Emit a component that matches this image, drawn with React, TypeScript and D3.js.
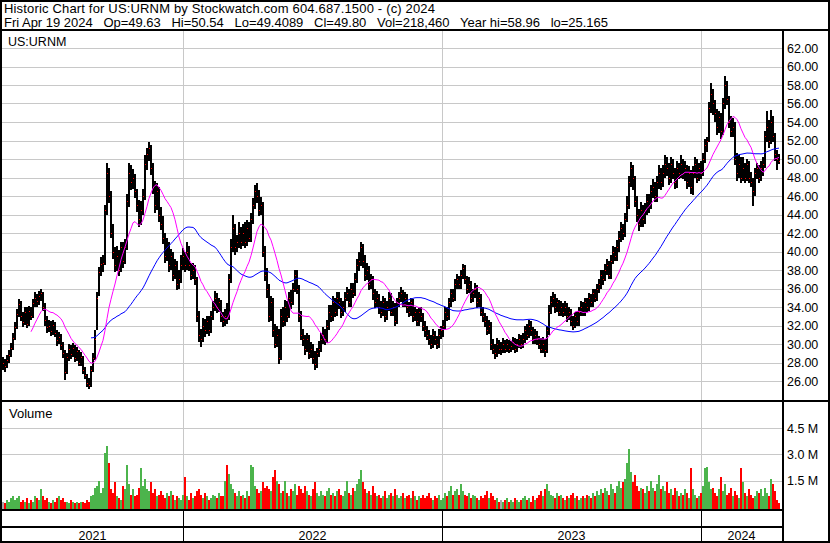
import React from "react";
import * as d3 from "d3";

// ---- data (one bar = two trading days) ----
const closes = [
  28.0, 27.6, 28.3, 28.8, 29.6, 30.6, 31.8, 33.2, 34.3, 33.0,
  32.4, 33.5, 32.2, 33.6, 33.0, 34.4, 35.0, 34.6, 35.2, 35.5,
  34.0, 32.6, 31.8, 32.0, 31.4, 32.1, 31.2, 30.4, 30.8, 29.9,
  29.0, 27.0, 28.6, 29.5, 28.9, 29.6, 28.5, 29.2, 28.0, 28.6,
  27.2, 26.6, 25.8, 25.6, 27.2, 28.5, 30.5, 35.0, 37.8, 38.6,
  38.8, 44.5, 48.5, 46.0, 42.0, 40.0, 38.5, 39.5, 38.0, 40.5,
  39.0, 40.5, 45.5, 48.5, 47.5, 48.0, 46.5, 45.0, 43.5, 44.5,
  46.0, 49.5, 50.5, 51.2, 49.0, 47.0, 45.0, 46.5, 44.0, 43.0,
  41.5, 39.5, 40.5, 38.5, 39.5, 37.5, 38.5, 36.5, 37.0, 38.5,
  39.5, 38.5, 40.0, 38.5, 37.5, 38.0, 37.0, 33.0, 31.0, 30.5,
  32.0, 31.5, 32.5, 31.5, 33.0, 34.0, 35.0, 34.0, 34.5, 33.0,
  32.5, 33.0, 32.8, 37.0, 40.5, 42.5, 40.5, 41.0, 42.0, 41.0,
  42.0, 41.0, 42.5, 41.5, 43.5, 45.0, 46.5, 46.0, 44.5, 45.0,
  40.0, 37.5, 36.0, 33.0, 34.5, 31.5, 30.0, 31.0, 28.5, 33.0,
  32.5, 34.0, 33.0, 35.0, 34.5, 36.0, 37.5, 36.0, 33.0, 31.0,
  30.5, 29.5, 30.5, 29.0, 29.5, 28.5, 27.8, 29.0, 29.5, 30.5,
  31.0, 30.5, 32.0, 33.5, 33.0, 34.5, 33.5, 35.0, 34.5, 33.5,
  34.0, 35.0, 35.5, 34.5, 36.0, 35.5, 37.0, 38.5, 39.0, 40.5,
  39.0, 37.5, 38.0, 36.5, 37.0, 35.5, 34.5, 35.0, 34.0, 33.5,
  34.5, 33.0, 34.0, 35.0, 33.5, 34.0, 32.5, 34.5, 35.0, 35.5,
  34.5, 35.0, 34.0, 33.5, 34.5, 33.0, 33.5, 32.5, 33.5, 33.0,
  32.0, 31.5, 31.0, 30.5, 30.0, 31.0, 30.5, 30.0, 31.0, 31.5,
  32.0, 33.5, 33.0, 34.5, 35.5, 35.0, 36.5, 37.0, 36.5, 37.5,
  38.2, 37.0, 36.0, 36.5, 35.0, 35.5, 36.0, 34.5, 35.0, 33.5,
  33.0, 32.5, 31.5, 32.0, 30.0, 29.5, 29.0, 30.0, 29.5, 29.5,
  30.0, 29.5, 30.0, 29.5, 29.8, 30.2, 29.5, 30.0, 30.5, 30.0,
  30.5, 31.5, 31.0, 32.0, 31.5, 30.5, 31.0, 30.5, 30.0, 29.5,
  30.0, 29.3, 31.5, 33.5, 34.5, 35.0, 34.0, 34.5, 33.5, 34.0,
  33.5, 34.0, 33.0, 33.5, 32.5, 32.0, 33.0, 32.5, 33.5, 34.0,
  33.5, 34.5, 34.0, 35.0, 34.5, 35.5, 35.0, 36.0, 36.5, 37.5,
  37.0, 38.0, 38.5, 37.5, 39.0, 40.0, 39.5, 40.5, 41.5, 42.5,
  42.0, 43.5, 45.0, 47.5, 49.0, 48.0, 45.5, 44.0, 43.0, 44.5,
  43.5, 44.5, 45.5, 45.0, 46.5, 47.0, 46.0, 47.5, 48.5, 47.5,
  48.5, 49.5, 49.0, 48.0, 49.5, 48.5, 47.5, 49.0, 48.5, 49.5,
  48.5, 49.0, 47.5, 48.5, 47.0, 48.5, 49.5, 48.0, 49.0, 48.5,
  50.0, 51.5, 52.0, 55.5, 57.0, 56.0, 55.0, 53.5, 54.5, 53.0,
  56.0, 58.0, 56.5, 54.0, 53.0, 53.5, 50.0, 48.5, 49.5, 48.0,
  49.0, 48.0, 49.5, 48.0, 47.5, 46.5, 48.5, 49.0, 48.0, 49.0,
  49.5, 52.5, 53.5, 52.0, 54.0, 52.5, 50.5, 50.0, 49.8,
];

const highs = [
  28.6, 28.4, 28.8, 29.3, 30.1, 31.2, 32.4, 33.8, 34.9, 34.6,
  33.5, 34.0, 34.0, 34.1, 34.0, 34.9, 35.6, 35.4, 35.7, 35.9,
  35.6, 34.4, 33.0, 32.6, 32.5, 32.6, 32.4, 31.5, 31.3, 31.1,
  30.2, 29.3, 29.0, 30.0, 29.9, 30.1, 29.9, 29.7, 29.4, 29.1,
  28.7, 27.5, 26.8, 26.3, 27.6, 29.0, 31.5, 35.6, 38.3, 39.4,
  39.6, 45.0, 49.6, 49.0, 46.5, 43.0, 40.5, 40.6, 40.2, 41.0,
  41.0, 41.3, 46.2, 49.6, 49.3, 48.9, 48.4, 46.8, 45.6, 45.5,
  46.8, 50.4, 51.2, 51.8, 51.5, 49.6, 47.6, 47.4, 47.0, 44.8,
  43.8, 42.0, 41.5, 41.0, 40.3, 40.0, 39.2, 39.0, 38.0, 39.6,
  40.4, 40.0, 41.0, 40.6, 38.8, 38.8, 38.5, 37.2, 33.6, 31.6,
  32.8, 32.7, 33.0, 33.0, 33.6, 34.7, 35.7, 35.5, 35.0, 34.8,
  33.5, 33.8, 34.4, 37.6, 41.3, 44.0, 43.0, 41.8, 43.2, 42.6,
  43.0, 43.2, 43.4, 43.2, 44.2, 45.8, 47.2, 47.4, 46.6, 45.9,
  45.4, 40.6, 38.2, 36.5, 35.2, 35.0, 32.2, 32.0, 31.6, 33.8,
  34.0, 34.8, 34.6, 35.6, 35.8, 36.6, 38.0, 38.0, 36.4, 33.6,
  31.6, 31.0, 31.2, 31.0, 30.2, 30.0, 29.2, 29.6, 30.3, 31.2,
  31.8, 31.6, 32.6, 34.2, 34.2, 35.2, 35.0, 35.6, 35.6, 35.0,
  34.7, 35.6, 36.2, 36.0, 36.6, 36.6, 37.7, 39.2, 40.0, 41.0,
  40.8, 39.6, 38.8, 38.4, 37.6, 37.4, 36.0, 35.7, 35.4, 34.6,
  35.2, 35.0, 34.6, 35.6, 35.5, 34.7, 34.4, 35.0, 35.6, 36.2,
  35.8, 35.6, 35.4, 34.5, 35.0, 34.9, 34.0, 33.8, 34.0, 34.0,
  33.4, 32.5, 32.0, 31.5, 31.0, 31.6, 31.4, 30.9, 31.6, 32.0,
  32.6, 34.0, 34.0, 35.0, 36.0, 36.0, 37.0, 37.6, 37.4, 38.0,
  38.7, 38.5, 37.4, 37.2, 36.8, 36.0, 36.6, 36.4, 35.6, 35.4,
  34.0, 33.4, 33.0, 32.6, 32.4, 30.5, 30.0, 30.6, 30.4, 30.2,
  30.6, 30.4, 30.5, 30.4, 30.3, 30.8, 30.6, 30.5, 31.1, 31.0,
  31.2, 32.0, 32.2, 32.6, 32.5, 31.8, 31.6, 31.4, 30.9, 30.6,
  30.8, 30.5, 32.0, 34.2, 35.2, 35.6, 35.4, 35.0, 34.8, 34.6,
  34.4, 34.6, 34.4, 34.0, 33.8, 33.0, 33.5, 33.6, 34.0, 34.6,
  34.5, 35.0, 35.0, 35.5, 35.4, 36.0, 36.0, 36.5, 37.0, 38.0,
  38.0, 38.6, 39.2, 39.0, 39.6, 40.6, 40.5, 41.2, 42.2, 43.2,
  43.0, 44.2, 46.0, 48.2, 49.7, 49.4, 48.2, 46.0, 44.6, 45.4,
  45.0, 45.2, 46.2, 46.2, 47.2, 47.8, 47.5, 48.2, 49.4, 49.0,
  49.4, 50.4, 50.2, 49.6, 50.2, 50.0, 49.0, 49.8, 49.6, 50.4,
  50.0, 49.8, 49.4, 49.2, 48.8, 49.2, 50.2, 50.0, 49.6, 49.8,
  50.6, 52.2, 52.4, 56.2, 58.2, 57.6, 56.4, 55.4, 55.2, 55.0,
  56.6, 58.96, 58.4, 56.8, 54.6, 54.4, 54.0, 50.6, 50.4, 50.2,
  50.2, 49.6, 50.0, 49.8, 48.6, 48.0, 49.0, 49.6, 49.4, 49.8,
  50.2, 53.0, 55.2, 54.2, 55.3, 54.6, 52.8, 51.0, 50.54,
];

const lows = [
  27.2, 27.0, 27.4, 28.0, 28.6, 29.3, 30.4, 31.6, 32.9, 32.5,
  31.8, 32.1, 31.7, 31.9, 32.6, 32.8, 34.0, 34.0, 34.2, 34.7,
  33.6, 32.0, 31.2, 31.3, 30.9, 31.0, 30.8, 29.8, 30.0, 29.4,
  28.5, 26.1, 26.8, 28.2, 28.4, 28.6, 28.1, 28.2, 27.6, 27.6,
  26.8, 26.2, 25.3, 25.17, 25.4, 27.0, 28.3, 31.5, 35.2, 37.3,
  37.8, 38.5, 44.0, 45.2, 41.5, 39.2, 37.8, 37.9, 37.4, 37.8,
  38.2, 38.6, 40.2, 44.8, 46.6, 46.8, 45.8, 44.3, 42.6, 42.9,
  44.0, 45.6, 48.8, 49.8, 48.3, 46.2, 44.2, 44.5, 43.2, 42.3,
  40.8, 38.8, 39.0, 37.8, 38.0, 36.8, 37.0, 35.8, 35.9, 36.6,
  38.0, 37.8, 38.0, 37.9, 36.9, 37.0, 36.4, 32.4, 30.2, 29.7,
  30.2, 30.8, 31.1, 30.9, 31.2, 32.6, 33.6, 33.4, 33.5, 32.4,
  31.8, 32.0, 32.2, 32.6, 36.6, 40.0, 39.6, 40.0, 40.4, 40.3,
  40.6, 40.4, 40.6, 41.0, 41.0, 43.0, 44.6, 45.2, 43.8, 43.9,
  39.4, 36.8, 35.0, 32.4, 32.5, 30.8, 29.6, 29.7, 27.8, 28.3,
  31.8, 32.0, 32.4, 32.8, 33.8, 34.2, 35.6, 35.4, 32.4, 30.4,
  29.8, 28.8, 29.1, 28.4, 28.5, 27.8, 27.2, 27.4, 28.6, 29.1,
  30.0, 29.9, 30.1, 31.5, 32.4, 32.5, 32.9, 33.0, 33.8, 32.8,
  33.0, 33.5, 34.6, 34.0, 34.0, 35.0, 35.2, 36.6, 37.9, 38.4,
  38.2, 36.8, 36.9, 35.8, 36.0, 34.8, 33.9, 34.0, 33.2, 32.8,
  33.0, 32.4, 32.6, 33.6, 33.0, 33.0, 32.0, 32.2, 34.0, 34.5,
  34.0, 34.0, 33.4, 32.9, 33.0, 32.4, 32.5, 32.0, 32.0, 32.4,
  31.4, 30.8, 30.4, 29.9, 29.5, 29.6, 29.9, 29.5, 29.6, 30.5,
  30.8, 31.6, 32.5, 32.6, 34.0, 34.5, 34.6, 35.9, 35.9, 36.0,
  37.0, 36.5, 35.4, 35.5, 34.4, 34.5, 35.0, 33.9, 34.0, 33.0,
  32.4, 31.8, 31.0, 31.1, 29.4, 28.9, 28.4, 28.6, 28.9, 28.8,
  29.0, 29.0, 29.1, 29.0, 29.1, 29.4, 29.0, 29.1, 29.6, 29.5,
  29.6, 30.1, 30.4, 30.6, 30.9, 30.0, 30.0, 29.9, 29.5, 29.0,
  29.0, 28.6, 29.0, 31.0, 33.2, 34.0, 33.4, 33.5, 33.0, 33.0,
  32.9, 33.0, 32.4, 32.6, 32.0, 31.5, 31.7, 32.0, 32.0, 33.0,
  33.0, 33.0, 33.5, 33.6, 34.0, 34.0, 34.5, 34.6, 35.5, 36.0,
  36.4, 36.8, 37.5, 37.0, 37.0, 38.6, 39.0, 39.0, 40.0, 41.0,
  41.2, 41.6, 43.2, 44.6, 47.0, 46.6, 44.8, 43.2, 42.2, 42.6,
  42.6, 43.0, 44.0, 44.2, 44.6, 45.8, 45.4, 45.4, 46.8, 46.6,
  47.0, 48.0, 48.2, 47.2, 47.4, 47.8, 46.8, 46.9, 47.8, 48.0,
  47.8, 47.6, 46.8, 47.0, 46.2, 46.1, 48.0, 47.4, 47.6, 47.8,
  48.2, 49.6, 50.8, 51.8, 55.0, 54.8, 54.0, 52.6, 52.8, 52.2,
  52.6, 55.4, 55.8, 53.4, 52.4, 52.4, 49.4, 47.6, 48.0, 47.4,
  47.6, 47.4, 47.6, 47.4, 47.0, 44.9, 46.0, 47.8, 47.4, 47.6,
  48.2, 49.0, 51.8, 51.2, 51.6, 51.8, 49.8, 48.8, 49.41,
];

// volume in millions of shares
const volumes = [
  0.3, 0.2, 0.4, 0.3, 0.5, 0.6, 0.4, 0.5, 0.6, 0.3,
  0.4, 0.3, 0.5, 0.2, 0.4, 0.3, 0.6, 0.5, 0.4, 1.0,
  0.6, 0.4, 0.5, 0.3, 0.2, 0.4, 0.3, 0.5, 0.6, 0.4,
  0.5, 0.3, 0.3, 0.2, 0.4, 0.3, 0.2, 0.3, 0.2, 0.3,
  0.3, 0.2, 0.4, 0.3, 0.6, 0.7, 1.1, 1.2, 1.5, 0.8,
  1.1, 3.1, 3.5, 2.5, 1.0, 0.8, 1.4, 0.6, 0.5, 0.4,
  1.2, 1.0, 2.4, 1.3, 0.7, 1.0, 0.6, 0.7, 1.1, 2.2,
  1.2, 1.6, 1.0, 0.9, 1.4, 0.8, 1.0, 0.6, 0.7, 0.9,
  0.7, 0.5, 0.8, 0.6, 0.9, 0.7, 0.4, 0.6, 0.5, 0.4,
  0.7, 1.7, 0.6, 0.4, 0.8, 0.5, 0.6, 0.9, 1.0, 0.7,
  0.5, 0.8, 0.6, 0.4, 0.5, 0.7, 0.6, 0.5, 0.8, 0.6,
  0.6, 1.5, 2.4, 1.9, 1.3, 1.0, 0.8, 0.6, 0.9, 0.6,
  0.7, 0.5, 0.9, 0.6, 2.4, 2.3, 1.2, 1.0, 0.8, 0.9,
  1.4, 1.1, 1.2, 1.0, 0.9, 1.7, 2.1, 1.5, 1.3, 0.8,
  0.9, 1.5, 0.8, 0.6, 1.0, 0.9, 1.3, 0.7, 1.2, 1.0,
  0.8, 1.2, 0.9, 0.7, 0.6, 1.0, 1.4, 0.8, 0.6, 0.9,
  0.7, 0.6, 0.9, 1.1, 0.7, 0.8, 0.6, 0.9, 1.0, 0.7,
  0.6, 0.9, 1.5, 0.8, 0.7, 1.1, 0.9, 1.3, 1.6, 2.1,
  1.4, 1.0, 0.8, 0.9, 0.7, 1.2, 0.8, 0.6, 0.7, 0.5,
  0.6, 0.9, 0.5, 0.7, 0.8, 0.6, 1.0, 0.7, 0.5, 0.6,
  0.8, 0.5, 0.6, 0.7, 0.5, 0.9, 0.6, 0.4, 0.6, 0.5,
  0.7, 0.5, 0.6, 0.8, 0.5, 0.4, 0.6, 0.5, 0.7, 0.4,
  0.5, 0.8, 0.6, 0.9, 1.2, 0.7, 0.9, 1.0, 0.7, 1.3,
  0.9, 0.7, 0.6, 0.8, 0.5, 0.7, 0.6, 0.5, 0.4, 0.6,
  0.5, 0.7, 0.9, 0.5, 0.8, 0.6, 0.4, 0.5, 0.3, 0.4,
  0.3, 0.4, 0.5, 0.3, 0.4, 0.3, 0.5, 0.4, 0.3, 0.4,
  0.5, 0.6, 0.4, 0.5, 0.3, 0.6, 0.4, 0.5, 0.7, 0.9,
  0.6, 1.0, 1.3, 0.9, 0.7, 0.6, 0.5, 0.8, 0.6, 0.7,
  0.5, 0.4, 0.6, 0.5, 0.7, 0.8, 0.5, 0.6, 0.4, 0.5,
  0.6, 0.5, 0.7, 0.6, 0.5, 0.8, 0.6, 0.9, 0.7, 1.0,
  0.8, 1.1, 0.9, 0.7, 1.3, 1.0, 0.8, 1.2, 1.5, 1.1,
  1.4, 1.6, 2.5, 3.3, 2.0, 1.4, 1.8, 1.2, 0.9, 1.1,
  1.0, 0.8, 1.2, 0.9, 1.5, 1.1, 0.9, 1.3, 1.8, 1.0,
  1.2, 0.9, 1.4, 0.8, 1.0, 0.7, 1.1, 0.9, 0.6, 0.8,
  0.7, 1.0, 0.8, 0.5, 2.2, 1.0, 0.7, 0.5, 0.6, 0.8,
  1.2, 2.2, 2.3, 1.4, 1.0, 1.1, 0.8, 0.6, 1.0, 1.7,
  0.9, 1.3, 0.7, 0.8, 1.1, 0.6, 0.9, 0.7, 0.5, 2.2,
  1.4, 0.8, 0.6, 1.0, 0.7, 0.5, 0.6, 0.9, 0.8, 1.0,
  0.6, 1.1, 0.8, 0.6, 1.6, 1.3, 0.9, 0.4, 0.22,
];

const yearLabels = ["2021", "2022", "2023", "2024"];
// bar index at which each new year begins (2022, 2023, 2024)
const yearBreaks = [90.5, 220, 349.5];
const priceTicks = [26, 28, 30, 32, 34, 36, 38, 40, 42, 44, 46, 48, 50, 52, 54, 56, 58, 60, 62];
const volumeTicks = [1.5, 3.0, 4.5];
const maFastLen = 15;
const maSlowLen = 45;

const titleLine = "Historic Chart for US:URNM by Stockwatch.com 604.687.1500 - (c) 2024";
const infoLine =
  "Fri Apr 19 2024   Op=49.63   Hi=50.54   Lo=49.4089   Cl=49.80   Vol=218,460   Year hi=58.96   lo=25.165";

const FONT = "'Liberation Sans', Arial, sans-serif";
const GRID = "#c8c8c8";

function movingAverage(vals: number[], n: number) {
  const out: [number, number][] = [];
  for (let i = n - 1; i < vals.length; i++) {
    const m = d3.mean(vals.slice(i - n + 1, i + 1)) as number;
    out.push([i, m]);
  }
  return out;
}

export default function App() {
  const N = closes.length;
  const W = 830;
  const H = 543;
  const plotL = 2;
  const plotR = 782;
  const priceTop = 31;
  const priceBot = 400;
  const volTop = 402;
  const volBot = 509;

  const x = d3.scaleLinear().domain([0, N]).range([2, 2 + 2 * N]);
  const y = d3.scaleLinear().domain([26, 62]).range([381, 48]);
  const yv = d3.scaleLinear().domain([0, 4.5]).range([507, 428]);

  const line = d3
    .line<[number, number]>()
    .x((d) => x(d[0]) + 1)
    .y((d) => y(d[1]));
  const maFast = movingAverage(closes, maFastLen);
  const maSlow = movingAverage(closes, maSlowLen);

  const breaksX = yearBreaks.map((b) => Math.round(x(b)));
  const segEdges = [plotL, ...breaksX, plotR];

  const bars: React.ReactNode[] = [];
  for (let i = 0; i < N; i++) {
    const yh = Math.round(y(highs[i]));
    const yl = Math.round(y(lows[i]));
    bars.push(
      <rect key={"b" + i} x={x(i)} y={yh} width={2} height={Math.max(1, yl - yh)} fill="#000" />
    );
  }
  const ticks: React.ReactNode[] = [];
  for (let i = 0; i < N; i++) {
    ticks.push(
      <rect key={"c" + i} x={x(i) + 1} y={Math.round(y(closes[i]))} width={1} height={1} fill="#ff0000" />
    );
  }

  const volBars = volumes.map((v, i) => {
    const prev = i > 0 ? closes[i - 1] : closes[i];
    const col = closes[i] > prev ? "#4cb44c" : closes[i] < prev ? "#ff0000" : "#a8a8a8";
    const top = Math.round(yv(v));
    return <rect key={"v" + i} x={x(i)} y={top} width={2} height={volBot - top} fill={col} />;
  });

  return (
    <svg width={W} height={H} style={{ position: "absolute", left: 0, top: 0, background: "#fff" }}
      shapeRendering="crispEdges">
      <rect x={0} y={0} width={W} height={H} fill="#fff" />

      {/* header text */}
      <text x={4} y={13} fontFamily={FONT} fontSize={13} fill="#000" textLength={431} lengthAdjust="spacing">
        {titleLine}
      </text>
      <text x={4} y={27} fontFamily={FONT} fontSize={13} fill="#000" style={{ whiteSpace: "pre" }}
        textLength={604} lengthAdjust="spacing">
        {infoLine}
      </text>

      {/* price grid */}
      {priceTicks.map((t) => (
        <line key={"pg" + t} x1={plotL} x2={plotR} y1={Math.round(y(t)) + 0.5} y2={Math.round(y(t)) + 0.5}
          stroke={GRID} strokeWidth={1} />
      ))}
      {breaksX.map((bx, k) => (
        <line key={"pv" + k} x1={bx + 0.5} x2={bx + 0.5} y1={priceTop} y2={priceBot} stroke={GRID} />
      ))}

      {/* volume grid */}
      {volumeTicks.map((t) => (
        <line key={"vg" + t} x1={plotL} x2={plotR} y1={Math.round(yv(t)) + 0.5} y2={Math.round(yv(t)) + 0.5}
          stroke={GRID} strokeWidth={1} />
      ))}
      {breaksX.map((bx, k) => (
        <line key={"vv" + k} x1={bx + 0.5} x2={bx + 0.5} y1={volTop} y2={volBot} stroke={GRID} />
      ))}

      {/* price bars with red close ticks */}
      <g>{bars}</g>
      <g>{ticks}</g>

      {/* moving averages */}
      <g shapeRendering="auto">
        <path d={line(maSlow) || ""} fill="none" stroke="#0000ff" strokeWidth={1} />
        <path d={line(maFast) || ""} fill="none" stroke="#ff00ff" strokeWidth={1} />
      </g>

      {/* volume bars */}
      <g>{volBars}</g>

      {/* labels in panels */}
      <text x={8} y={46} fontFamily={FONT} fontSize={12.5} fill="#000">US:URNM</text>
      <text x={9} y={418} fontFamily={FONT} fontSize={13} fill="#000">Volume</text>

      {/* right axis labels */}
      {priceTicks.map((t) => (
        <text key={"pl" + t} x={787} y={y(t) + 4.5} fontFamily={FONT} fontSize={12.5} fill="#000">
          {t.toFixed(2)}
        </text>
      ))}
      {volumeTicks.map((t) => (
        <text key={"vl" + t} x={787} y={yv(t) + 4.5} fontFamily={FONT} fontSize={12.5} fill="#000">
          {t.toFixed(1) + " M"}
        </text>
      ))}

      {/* date strip */}
      {breaksX.map((bx, k) => (
        <line key={"dv" + k} x1={bx + 0.5} x2={bx + 0.5} y1={511} y2={541} stroke="#000" />
      ))}
      {yearLabels.map((lab, k) => (
        <text key={lab} x={(segEdges[k] + segEdges[k + 1]) / 2} y={540} textAnchor="middle"
          fontFamily={FONT} fontSize={12.5} fill="#000">{lab}</text>
      ))}

      {/* frame lines */}
      <rect x={0} y={29} width={W} height={2} fill="#000" />
      <rect x={0} y={400} width={W} height={2} fill="#000" />
      <rect x={0} y={509} width={plotR} height={2} fill="#000" />
      <rect x={0} y={526} width={plotR} height={2} fill="#000" />
      <rect x={plotR} y={29} width={2} height={H - 29} fill="#000" />
      <rect x={0} y={0} width={W} height={2} fill="#000" />
      <rect x={0} y={H - 2} width={W} height={2} fill="#000" />
      <rect x={0} y={0} width={2} height={H} fill="#000" />
      <rect x={W - 2} y={0} width={2} height={H} fill="#000" />
    </svg>
  );
}
